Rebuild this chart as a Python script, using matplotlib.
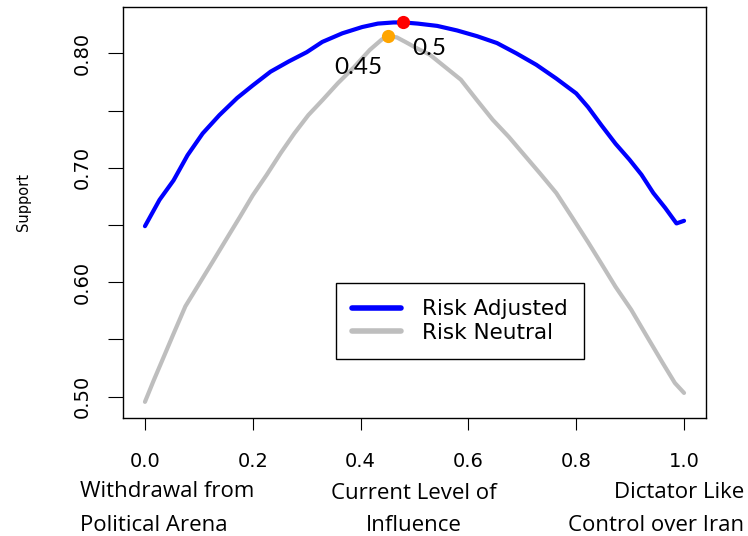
import matplotlib
matplotlib.use("Agg")
import matplotlib.pyplot as plt
import numpy as np

# ---- data ----
adj_x = [0.0, 0.027, 0.053, 0.079, 0.107, 0.138, 0.171, 0.200, 0.233, 0.267,
         0.300, 0.329, 0.366, 0.403, 0.432, 0.461, 0.480, 0.506, 0.542, 0.579,
         0.616, 0.653, 0.689, 0.726, 0.763, 0.800, 0.822, 0.847, 0.873, 0.899,
         0.921, 0.943, 0.965, 0.986, 1.0]
adj_y = [0.649, 0.672, 0.689, 0.711, 0.730, 0.746, 0.761, 0.772, 0.784, 0.793,
         0.801, 0.810, 0.8175, 0.823, 0.826, 0.827, 0.827, 0.826, 0.824, 0.820,
         0.815, 0.809, 0.800, 0.790, 0.778, 0.765, 0.753, 0.737, 0.721, 0.707,
         0.694, 0.678, 0.665, 0.6514, 0.6537]

neu_x = [0.0, 0.016, 0.035, 0.053, 0.075, 0.101, 0.127, 0.154, 0.176, 0.200,
         0.226, 0.252, 0.277, 0.303, 0.329, 0.358, 0.388, 0.417, 0.439, 0.450,
         0.467, 0.483, 0.506, 0.528, 0.557, 0.586, 0.616, 0.645, 0.675, 0.704,
         0.733, 0.763, 0.792, 0.822, 0.847, 0.873, 0.902, 0.932, 0.961, 0.983, 1.0]
neu_y = [0.4955, 0.514, 0.535, 0.555, 0.579, 0.599, 0.619, 0.640, 0.657, 0.676,
         0.694, 0.713, 0.730, 0.746, 0.759, 0.774, 0.788, 0.803, 0.812, 0.815,
         0.814, 0.810, 0.804, 0.799, 0.788, 0.777, 0.759, 0.742, 0.727, 0.711,
         0.695, 0.678, 0.657, 0.635, 0.616, 0.596, 0.576, 0.552, 0.529, 0.512, 0.5033]

opt_adj = (0.478, 0.827)   # red point
opt_neu = (0.45, 0.815)    # orange point
opt_adj_label = "0.5"
opt_neu_label = "0.45"

series_names = ["Risk Adjusted", "Risk Neutral"]
x_ticks = [0.0, 0.2, 0.4, 0.6, 0.8, 1.0]
x_ticklabels = ["0.0", "0.2", "0.4", "0.6", "0.8", "1.0"]
y_ticks = [0.50, 0.55, 0.60, 0.65, 0.70, 0.75, 0.80]
y_ticklabels = ["0.50", "", "0.60", "", "0.70", "", "0.80"]
axis_descriptions = [("Withdrawal from", "Political Arena"),
                     ("Current Level of", "Influence"),
                     ("Dictator Like", "Control over Iran")]

W, H = 748, 536
fig = plt.figure(figsize=(W / 100, H / 100), dpi=100)
ax = fig.add_axes([123.4 / W, 1 - 418 / H, (705.6 - 123.4) / W, (418 - 7) / H])

ax.plot(adj_x, adj_y, color="#0000FF", lw=3.0, solid_capstyle="round",
        solid_joinstyle="round", label=series_names[0], zorder=3)
ax.plot(neu_x, neu_y, color="#BEBEBE", lw=3.0, solid_capstyle="round",
        solid_joinstyle="round", label=series_names[1], zorder=2)
ax.plot([opt_adj[0]], [opt_adj[1]], "o", color="#FF0000", ms=9.5, mec="none", zorder=4)
ax.plot([opt_neu[0]], [opt_neu[1]], "o", color="#FFA500", ms=9.5, mec="none", zorder=4)

ax.text(opt_neu[0] - 0.055, opt_neu[1] - 0.027, opt_neu_label, family="Lato",
        fontsize=17.5, ha="center", va="center")
ax.text(opt_adj[0] + 0.049, opt_adj[1] - 0.023, opt_adj_label, family="Lato",
        fontsize=17.5, ha="center", va="center")

ax.set_xlim(-0.04, 1.04)
ax.set_ylim(0.4814, 0.8405)

ax.set_xticks(x_ticks)
ax.set_xticklabels(x_ticklabels, fontsize=14, family="DejaVu Sans")
ax.set_yticks(y_ticks)
ax.set_yticklabels(y_ticklabels, fontsize=14, family="DejaVu Sans",
                   rotation=90, va="center")
ax.tick_params(axis="x", direction="out", length=8.6, width=0.8, pad=16)
ax.tick_params(axis="y", direction="out", length=10.5, width=0.8, pad=12)
for s in ax.spines.values():
    s.set_linewidth(1.0)

leg = ax.legend(loc="center", bbox_to_anchor=(459.9 / W, 1 - 320.9 / H),
                bbox_transform=fig.transFigure, fontsize=15.5, frameon=True,
                fancybox=False, edgecolor="black", framealpha=1,
                handlelength=2.3, handletextpad=0.98, borderpad=0.75,
                labelspacing=0.15, borderaxespad=0)
leg.get_frame().set_linewidth(1.0)
for ln in leg.get_lines():
    ln.set_linewidth(4.0)

fig.text(23.5 / W, 1 - 202 / H, "Support", rotation=90, fontsize=10.5,
         family="DejaVu Sans", ha="center", va="center")

fs_desc = 16
fam = "Open Sans"
(l1, l2), (m1, m2), (r1, r2) = axis_descriptions
fig.text(80 / W, 1 - 497 / H, l1, family=fam, fontsize=fs_desc, ha="left", va="baseline")
fig.text(80 / W, 1 - 531 / H, l2, family=fam, fontsize=fs_desc, ha="left", va="baseline")
fig.text(414 / W, 1 - 499 / H, m1, family=fam, fontsize=fs_desc, ha="center", va="baseline")
fig.text(414 / W, 1 - 531 / H, m2, family=fam, fontsize=fs_desc, ha="center", va="baseline")
fig.text(744 / W, 1 - 498 / H, r1, family=fam, fontsize=fs_desc, ha="right", va="baseline")
fig.text(744 / W, 1 - 531 / H, r2, family=fam, fontsize=fs_desc, ha="right", va="baseline")

fig.savefig("out.png", dpi=100)
